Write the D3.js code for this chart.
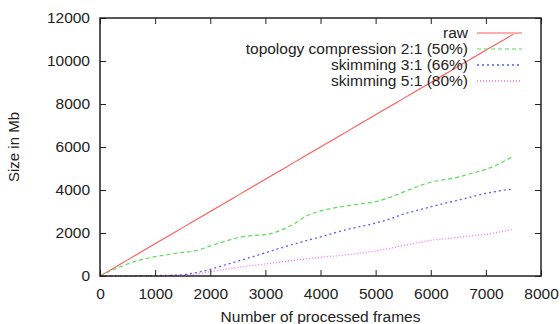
<!DOCTYPE html>
<html><head><meta charset="utf-8">
<script src="https://cdn.jsdelivr.net/npm/d3@7"></script>
<style>body{margin:0;background:#fff}svg{display:block}text{font-family:"Liberation Sans",Arial,sans-serif;fill:#222}</style>
</head><body>
<svg id="c" width="560" height="324"></svg>
<script>
const frames = [0,250,500,750,1000,1250,1500,1750,2000,2250,2500,2750,3000,3250,3500,3750,4000,4250,4500,4750,5000,5250,5500,5750,6000,6250,6500,6750,7000,7250,7500];
const raw = frames.map(f => f * 1.5);
const topology = [0,300,560,760,900,1000,1100,1180,1400,1600,1780,1880,1920,2100,2400,2800,3030,3170,3270,3360,3460,3650,3900,4150,4360,4480,4600,4780,4960,5230,5580];
const skim3 = [0,5,10,15,20,30,60,160,310,500,690,880,1080,1280,1470,1650,1820,2000,2170,2320,2460,2650,2880,3050,3220,3380,3530,3690,3840,3960,4050];
const skim5 = [0,3,5,8,10,20,40,100,200,300,400,480,560,640,720,800,870,930,990,1070,1160,1280,1420,1540,1660,1730,1800,1870,1940,2050,2170];
const seriesNames = ["raw","topology compression 2:1 (50%)","skimming 3:1 (66%)","skimming 5:1 (80%)"];
const xTicks = [0,1000,2000,3000,4000,5000,6000,7000,8000];
const yTicks = [0,2000,4000,6000,8000,10000,12000];

const svg = d3.select("#c");
const L=100,R=541,T=18,B=276;
const x = d3.scaleLinear().domain([0,8000]).range([L,R]);
const y = d3.scaleLinear().domain([0,12000]).range([B,T]);

const styles = [
  {c:"#ff5a5a", d:null, w:1.1},
  {c:"#55e055", d:"4,3", w:1.2},
  {c:"#5a5aff", d:"2,3", w:1.3},
  {c:"#ff66ff", d:"1,2", w:1.3}
];
const data = [raw, topology, skim3, skim5];
const line = d3.line().x((d,i)=>x(frames[i])).y(d=>y(d)).curve(d3.curveMonotoneX);
data.forEach((s,k)=>{
  svg.append("path").attr("d", line(s)).attr("fill","none")
    .attr("stroke", styles[k].c).attr("stroke-width", styles[k].w)
    .attr("stroke-dasharray", styles[k].d);
});

const fs = "15.5px";
const gB = svg.append("g").attr("transform",`translate(0,${B})`)
  .call(d3.axisBottom(x).tickValues(xTicks).tickSizeInner(-6).tickSizeOuter(0).tickPadding(12).tickFormat(d3.format("d")));
const gT = svg.append("g").attr("transform",`translate(0,${T})`)
  .call(d3.axisTop(x).tickValues(xTicks).tickSizeInner(-6).tickSizeOuter(0).tickFormat(""));
const gL = svg.append("g").attr("transform",`translate(${L},0)`)
  .call(d3.axisLeft(y).tickValues(yTicks).tickSizeInner(-6).tickSizeOuter(0).tickPadding(10).tickFormat(d3.format("d")));
const gR = svg.append("g").attr("transform",`translate(${R},0)`)
  .call(d3.axisRight(y).tickValues(yTicks).tickSizeInner(-6).tickSizeOuter(0).tickFormat(""));
[gB,gT,gL,gR].forEach(g=>{
  g.select(".domain").remove();
  g.selectAll(".tick line").attr("stroke","#222").attr("stroke-width",1);
  g.selectAll("text").style("font-size",fs).attr("fill","#222").style("font-family",'"Liberation Sans",Arial,sans-serif');
});
svg.append("rect").attr("x",L).attr("y",T).attr("width",R-L).attr("height",B-T)
  .attr("fill","none").attr("stroke","#222").attr("stroke-width",1.5);

svg.append("text").attr("x",(L+R)/2).attr("y",321.5).attr("text-anchor","middle").style("font-size",fs).text("Number of processed frames");
svg.append("text").attr("transform",`translate(18.5,${(T+B)/2}) rotate(-90)`).attr("text-anchor","middle").style("font-size","15px").text("Size in Mb");

const lg = svg.append("g");
seriesNames.forEach((n,k)=>{
  const yy = 33 + k*16;
  lg.append("text").attr("x",468).attr("y",yy).attr("dy","0.35em").attr("text-anchor","end").style("font-size",fs).text(n);
  lg.append("line").attr("x1",477).attr("x2",522).attr("y1",yy).attr("y2",yy)
    .attr("stroke",styles[k].c).attr("stroke-width",styles[k].w).attr("stroke-dasharray",styles[k].d);
});
</script>
</body></html>
